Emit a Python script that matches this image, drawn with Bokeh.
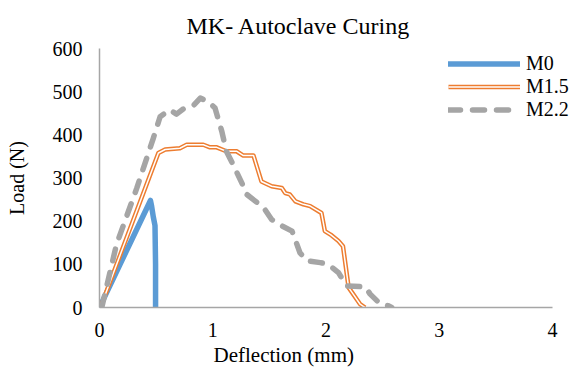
from bokeh.plotting import figure
from bokeh.models import Range1d, Legend, LegendItem, Title, FixedTicker
from bokeh.embed import file_html
from bokeh.resources import INLINE

# Data
m0_x = [0.0, 0.45, 0.46, 0.475, 0.49, 0.495, 0.495]
m0_y = [0, 248, 235, 210, 190, 100, 0]

m15_x = [0.02, 0.52, 0.58, 0.71, 0.77, 0.917, 0.976, 1.035, 1.12, 1.21, 1.27, 1.36,
         1.43, 1.52, 1.61, 1.64, 1.68, 1.73, 1.80, 1.86, 1.96, 1.99, 2.04, 2.11,
         2.15, 2.20, 2.24, 2.30, 2.345]
m15_y = [8, 358, 366, 369, 377, 377, 371, 371, 362, 362, 352, 352,
         292, 281, 277, 265, 262, 246, 239, 235, 219, 177, 169, 154,
         142, 46, 31, 8, 0]

m22_x = [0.02, 0.15, 0.33, 0.475, 0.535, 0.62, 0.68, 0.74, 0.83, 0.89, 0.96, 1.02,
         1.08, 1.12, 1.18, 1.27, 1.30, 1.45, 1.52, 1.59, 1.70, 1.77, 1.83, 1.95,
         2.02, 2.11, 2.18, 2.345, 2.39, 2.48, 2.55, 2.58]
m22_y = [0, 146, 277, 392, 442, 458, 448, 460, 468, 485, 477, 462,
         408, 362, 331, 281, 262, 231, 204, 192, 177, 127, 108, 104,
         100, 81, 50, 48, 31, 8, 4, 0]

x_ticks = [0, 1, 2, 3, 4]
y_ticks = [0, 100, 200, 300, 400, 500, 600]

series_names = ["M0", "M1.5", "M2.2"]

FONT = "Liberation Serif"

# frame extends to the right edge so the legend is not clipped;
# the x axis line itself is bounded to 0..4
p = figure(width=571, height=374, x_range=Range1d(0, 4 * 472 / 453), y_range=Range1d(0, 600),
           output_backend="svg", toolbar_location=None,
           title="MK- Autoclave Curing",
           min_border_left=99, min_border_right=0, min_border_top=47, min_border_bottom=67)

p.title.align = "left"
p.title.offset = 87
p.title.standoff = 20
p.title.text_font = FONT
p.title.text_font_size = "24px"
p.title.text_font_style = "normal"
p.title.text_color = "#000000"

p.xgrid.visible = False
p.ygrid.visible = False
p.outline_line_color = None
p.background_fill_color = "white"

for ax in (p.xaxis[0], p.yaxis[0]):
    ax.axis_line_color = "#A6A6A6"
    ax.axis_line_width = 1.5
    ax.major_tick_line_color = None
    ax.minor_tick_line_color = None
    ax.major_tick_out = 0
    ax.major_tick_in = 0
    ax.minor_tick_out = 0
    ax.minor_tick_in = 0
    ax.major_label_text_font = FONT
    ax.major_label_text_font_size = "20px"
    ax.major_label_text_color = "#000000"

p.xaxis[0].major_label_standoff = 15
p.yaxis[0].major_label_standoff = 17
p.xaxis[0].bounds = (0, 4)

p.xaxis[0].ticker = FixedTicker(ticks=x_ticks)
p.yaxis[0].ticker = FixedTicker(ticks=y_ticks)

p.yaxis[0].axis_label = "Load (N)"
p.yaxis[0].axis_label_text_font = FONT
p.yaxis[0].axis_label_text_font_size = "20px"
p.yaxis[0].axis_label_text_font_style = "normal"
p.yaxis[0].axis_label_text_color = "#000000"
p.yaxis[0].axis_label_standoff = 22

p.add_layout(Title(text="Deflection (mm)", align="left", offset=114,
                   vertical_align="top",
                   text_font=FONT, text_font_size="21px", text_font_style="normal",
                   text_color="#000000", standoff=6), "below")

r0 = p.line(m0_x, m0_y, line_color="#5B9BD5", line_width=5.5,
            line_cap="round", line_join="round")
r1o = p.line(m15_x, m15_y, line_color="#ED7D31", line_width=4.5, line_join="round")
r1w = p.line(m15_x, m15_y, line_color="white", line_width=1.5, line_join="round")
r2 = p.line(m22_x, m22_y, line_color="#A5A5A5", line_width=5.5,
            line_dash="12 12", line_cap="round", line_join="round")

legend = Legend(items=[LegendItem(label=series_names[0], renderers=[r0]),
                       LegendItem(label=series_names[1], renderers=[r1o, r1w]),
                       LegendItem(label=series_names[2], renderers=[r2])],
                location=(349, 186), glyph_width=72, glyph_height=23, label_height=23,
                spacing=0, padding=0, margin=0, label_standoff=6,
                background_fill_alpha=0, border_line_color=None,
                label_text_font=FONT, label_text_font_size="20px",
                label_text_color="#000000")
p.add_layout(legend)

open("out.html", "w").write(file_html(p, INLINE))
